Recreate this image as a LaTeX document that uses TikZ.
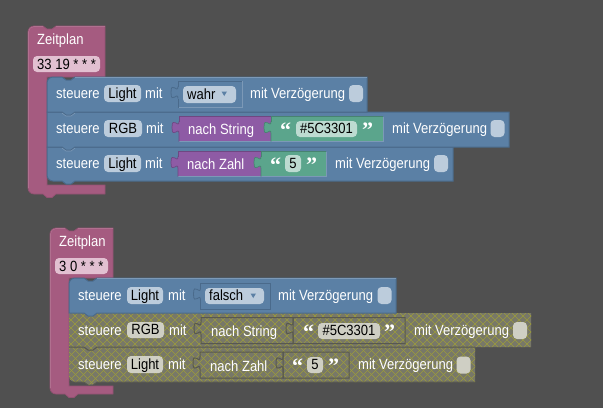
\documentclass[tikz,border=0pt]{standalone}
\usepackage{fontspec}
\setmainfont{Liberation Sans}[FakeStretch=0.88]
\newfontfamily\quotefont{Liberation Serif}[BoldFont={Liberation Serif Bold}]
\definecolor{bgc}{HTML}{505050}
\definecolor{pinkc}{HTML}{A55B80}
\definecolor{pinkd}{HTML}{925172}
\definecolor{pinkl}{HTML}{B0708F}
\definecolor{pinkf}{HTML}{E2C0D1}
\definecolor{bluec}{HTML}{5B80A5}
\definecolor{blued}{HTML}{4A6A8B}
\definecolor{bluel}{HTML}{7C99B7}
\definecolor{bluef}{HTML}{BCCCDC}
\definecolor{purc}{HTML}{8E5BA5}
\definecolor{purd}{HTML}{6F4782}
\definecolor{grnc}{HTML}{5BA58C}
\definecolor{grnd}{HTML}{478370}
\definecolor{grnf}{HTML}{BDDBD1}
\definecolor{hatchbase}{HTML}{787868}
\definecolor{hatchline}{HTML}{9C9C3C}
\definecolor{hatchd}{HTML}{58584F}
\definecolor{hatchf}{HTML}{CFCFC4}
\tikzset{
  lbl/.style={anchor=base west,inner sep=0pt,text=white,font=\fontsize{14.8}{16}\selectfont},
  fieldbox/.style={rectangle,rounded corners=4pt,inner sep=0pt,text=black,align=center,
    text height=10.5pt,text depth=1.5pt,font=\fontsize{14.8}{16}\selectfont},
  qmark/.style={anchor=base west,inner sep=0pt,text=white,font=\quotefont\bfseries\fontsize{22}{22}\selectfont},
  checkbox/.style={rectangle,rounded corners=4pt,inner sep=0pt,minimum width=14pt,minimum height=17pt},
}
\newcount\nidx
\newcommand{\nextn}{\global\advance\nidx by 1 }
\newcommand{\lab}[3]{\nextn\node[lbl] (t\the\nidx) at (#1,#2) {#3};}
\newcommand{\fld}[6]{\nextn\node[fieldbox,fill=#5,minimum width={(#3-#1)*1pt},minimum height={(#4-#2)*1pt}] (f\the\nidx) at ({(#1+#3)/2},{(#2+#4)/2}) {#6};}
\newcommand{\chk}[3]{\nextn\node[checkbox,fill=#3] (c\the\nidx) at (#1,#2) {};}
\newcommand{\quotes}[3]{\nextn\node[qmark] (q\the\nidx) at (#1,#3) {“};\nextn\node[qmark] (q\the\nidx) at (#2,#3) {”};}
\def\rowpath#1#2#3#4{(#1,#2) -- (#1+15,#2) -- (#1+19,#2+3) -- (#1+24,#2+3) -- (#1+28,#2) -- (#3,#2) -- (#3,#4) -- (#1+28,#4) -- (#1+24,#4+3) -- (#1+19,#4+3) -- (#1+15,#4) -- (#1,#4) -- cycle}
\def\toprow#1#2#3#4{(#1,#2+6) arc[start angle=180,end angle=270,radius=6] -- (#1+15,#2) -- (#1+19,#2+3) -- (#1+24,#2+3) -- (#1+28,#2) -- (#3,#2) -- (#3,#4) -- (#1+28,#4) -- (#1+24,#4+3) -- (#1+19,#4+3) -- (#1+15,#4) -- (#1,#4) -- cycle}
\def\botrow#1#2#3#4{(#1,#2) -- (#1+15,#2) -- (#1+19,#2+3) -- (#1+24,#2+3) -- (#1+28,#2) -- (#3,#2) -- (#3,#4) -- (#1+28,#4) -- (#1+24,#4+3) -- (#1+19,#4+3) -- (#1+15,#4) -- (#1+6,#4) arc[start angle=90,end angle=180,radius=6] -- cycle}
\def\tabpath#1#2{(#1,#2) .. controls (#1,#2+8) and (#1-7,#2-6.5) .. (#1-7,#2+6) .. controls (#1-7,#2+18.5) and (#1,#2+4) .. (#1,#2+12)}
\newcommand{\capblock}[7]{%
  \filldraw[fill=pinkc,draw=pinkd,line width=.7pt] (#1,#2+6) arc[start angle=180,end angle=270,radius=6]
    -- (#1+15,#2) -- (#1+19,#2+3) -- (#1+24,#2+3) -- (#1+28,#2) -- (#3,#2) -- (#3,#7) -- (#4,#7) -- (#4,#5) -- (#3,#5) -- (#3,#6)
    -- (#1+28,#6) -- (#1+24,#6+3.5) -- (#1+19,#6+3.5) -- (#1+15,#6) -- (#1+6,#6) arc[start angle=90,end angle=180,radius=6] -- cycle;
  \draw[pinkl,line width=.6pt] (#1+.5,#6-6) -- (#1+.5,#2+6) arc[start angle=180,end angle=270,radius=5.5] -- (#1+15,#2+.5);
  \draw[pinkl,line width=.6pt] (#1+28,#2+.5) -- (#3-.5,#2+.5);
}
\newcommand{\hatchlines}[2]{%
  \foreach \k in {-40,-32,...,620}{%
    \draw[hatchline,line width=.45pt] (\k,#1) -- (\k+#2-#1,#2);
    \draw[hatchline,line width=.45pt] (\k,#2) -- (\k+#2-#1,#1);
  }}
\newcommand{\innerblk}[7]{%
  \fill[#5] \tabpath{#1}{#2+5} -- (#1,#4) -- (#3,#4) -- (#3,#2) -- (#1,#2) -- cycle;
  \draw[#7,line width=.7pt] (#1,#4) -- (#3,#4) -- (#3,#2);
  \draw[#6,line width=.7pt] (#3,#2) -- (#1,#2) -- (#1,#2+5);
  \draw[#6,line width=.7pt] \tabpath{#1}{#2+5} -- (#1,#4);
}
\newcommand{\outlineblk}[4]{%
  \draw[hatchd,line width=1pt] \tabpath{#1}{#2+5} -- (#1,#4) -- (#3,#4) -- (#3,#2) -- (#1,#2) -- (#1,#2+5);
}
\begin{document}
\begin{tikzpicture}[x=1pt,y=-1pt]
\useasboundingbox (0,0) rectangle (603,408);
\fill[bgc] (0,0) rectangle (603,408);

%%% first stack
\capblock{28}{26}{105}{47}{185}{194}{77}
\nextn\node[lbl] (z1) at (37,44) {Zeitplan};
\fld{33}{56}{100}{72}{pinkf}{}
\nextn\node[lbl,text=black] (z1v) at (37,69) {33 19 * * *};

\filldraw[fill=bluec,draw=blued,line width=1pt] \botrow{47}{147}{453}{181};
\filldraw[fill=bluec,draw=blued,line width=1pt] \rowpath{47}{112}{509}{147};
\filldraw[fill=bluec,draw=blued,line width=1pt] \toprow{47}{77}{367}{112};
\draw[bluel,line width=.6pt] (75,77.5) -- (366.5,77.5);
\draw[bluel,line width=.6pt] (62,113) -- (66,116) -- (71,116) -- (75,113);
\draw[bluel,line width=.6pt] (62,148) -- (66,151) -- (71,151) -- (75,148);

% row 1
\lab{56}{98}{steuere}
\fld{104}{85}{141}{102}{bluef}{Light}
\lab{145}{98}{mit}
\draw[blued,line width=.8pt] \tabpath{178}{86.5};
\draw[blued,line width=.8pt] (178,98.5) -- (178,107) -- (242,107) -- (242,81) -- (178,81) -- (178,86.5);
\draw[bluel,line width=.5pt] (178.6,107.6) -- (242.6,107.6) -- (242.6,81);
\fld{183}{86}{236}{103}{bluef}{}
\lab{187}{99}{\textcolor{black}{wahr}}
\fill[bluec] (221.5,91.5) -- (227,91.5) -- (224.25,96) -- cycle;
\lab{250}{98}{mit Verzögerung}
\chk{356}{93.5}{bluef}

% row 2
\lab{56}{133}{steuere}
\fld{104}{120}{142}{137}{bluef}{RGB}
\lab{146}{133}{mit}
\innerblk{179}{116.5}{271}{141.5}{purc}{purd}{bluel}
\lab{188}{134}{nach String}
\innerblk{271}{116.5}{383}{141.5}{grnc}{grnd}{bluel}
\quotes{280}{362}{137}
\fld{296}{121}{357}{137}{grnf}{\#5C3301}
\lab{392}{133}{mit Verzögerung}
\chk{497.5}{128.5}{bluef}

% row 3
\lab{56}{168}{steuere}
\fld{104}{155}{141}{172}{bluef}{Light}
\lab{145}{168}{mit}
\innerblk{178}{151.5}{261}{176.5}{purc}{purd}{bluel}
\lab{187}{169}{nach Zahl}
\innerblk{261}{151.5}{326}{176.5}{grnc}{grnd}{bluel}
\quotes{270}{306}{172}
\fld{285}{155}{301}{172}{grnf}{5}
\lab{335}{168}{mit Verzögerung}
\chk{441}{163.5}{bluef}

%%% second stack
\capblock{50}{228}{113}{69}{386}{394}{278}
\nextn\node[lbl] (z2) at (59,246) {Zeitplan};
\fld{55}{258}{108}{274}{pinkf}{}
\nextn\node[lbl,text=black] (z2v) at (59,271) {3 0 * * *};

% hatched rows
\fill[hatchbase] \botrow{69}{347}{475}{382};
\begin{scope}
  \clip \botrow{69}{347}{475}{382};
  \hatchlines{347}{386}
\end{scope}
\draw[hatchd,line width=.8pt] (69,382) -- (84,382) -- (88,385) -- (93,385) -- (97,382) -- (475,382);
\fill[hatchbase] \rowpath{69}{313}{531}{347};
\begin{scope}
  \clip \rowpath{69}{313}{531}{347};
  \hatchlines{313}{351}
\end{scope}
\draw[hatchd,line width=1pt] (69,347) -- (84,347) -- (88,350) -- (93,350) -- (97,347) -- (475,347);
\filldraw[fill=bluec,draw=blued,line width=1pt] \toprow{69}{278}{396}{313};
\draw[bluel,line width=.6pt] (97,278.5) -- (395.5,278.5);

% row 1
\lab{78}{300}{steuere}
\fld{127}{287}{163}{304}{bluef}{Light}
\lab{168}{300}{mit}
\draw[blued,line width=.8pt] \tabpath{200.5}{288};
\draw[blued,line width=.8pt] (200.5,300) -- (200.5,309) -- (270,309) -- (270,283) -- (200.5,283) -- (200.5,288);
\fld{205}{288}{264}{304}{bluef}{}
\lab{209}{300.5}{\textcolor{black}{falsch}}
\fill[bluec] (250.5,293.5) -- (256,293.5) -- (253.25,298) -- cycle;
\lab{278}{300}{mit Verzögerung}
\chk{384.5}{295.5}{bluef}

% row 2
\lab{78}{335.5}{steuere}
\fld{127}{322}{164}{338}{hatchf}{RGB}
\lab{169}{335.5}{mit}
\outlineblk{201}{317.5}{293}{343.5}
\lab{211}{336}{nach String}
\outlineblk{293}{317.5}{405}{343.5}
\quotes{303}{384}{339.5}
\fld{318}{323}{380}{339}{hatchf}{\#5C3301}
\lab{414}{335.5}{mit Verzögerung}
\chk{520}{330.5}{hatchf}

% row 3
\lab{78}{369.5}{steuere}
\fld{127}{356}{163}{373}{hatchf}{Light}
\lab{168}{369.5}{mit}
\outlineblk{200}{352}{283}{378}
\lab{210}{371}{nach Zahl}
\outlineblk{283}{352}{349}{378}
\quotes{292}{328}{373.5}
\fld{307}{357}{323}{373}{hatchf}{5}
\lab{358}{369.5}{mit Verzögerung}
\chk{463.5}{365}{hatchf}
\end{tikzpicture}
\end{document}
